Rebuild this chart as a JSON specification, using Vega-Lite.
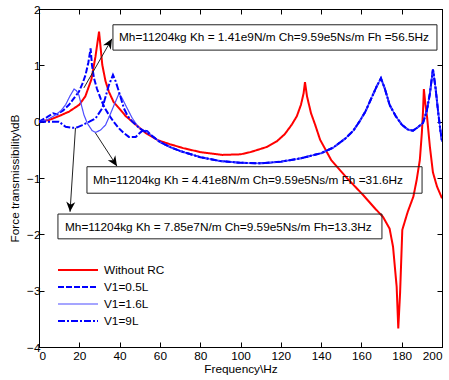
{
  "$schema": "https://vega.github.io/schema/vega-lite/v6.json",
  "width": 403,
  "height": 338,
  "autosize": {"type": "none"},
  "padding": {"left": 39, "top": 9, "right": 7, "bottom": 33},
  "background": "white",
  "config": {
    "font": "Liberation Sans",
    "view": {"stroke": "black", "strokeWidth": 1},
    "axis": {
      "grid": false,
      "domainColor": "black",
      "tickColor": "black",
      "labelColor": "black",
      "titleColor": "black",
      "labelFont": "Liberation Sans",
      "titleFont": "Liberation Sans",
      "labelFontSize": 11.8,
      "titleFontSize": 11.8,
      "titleFontWeight": "normal",
      "tickSize": -5
    },
    "legend": {
      "labelFont": "Liberation Sans",
      "labelFontSize": 11.8,
      "labelColor": "black"
    }
  },
  "datasets": {
    "curves": [
      {"s": "Without RC", "f": 0, "v": 0},
      {"s": "Without RC", "f": 5, "v": 0.03},
      {"s": "Without RC", "f": 10, "v": 0.1},
      {"s": "Without RC", "f": 15, "v": 0.18},
      {"s": "Without RC", "f": 20, "v": 0.3},
      {"s": "Without RC", "f": 23, "v": 0.45},
      {"s": "Without RC", "f": 26, "v": 0.75},
      {"s": "Without RC", "f": 28, "v": 1.15},
      {"s": "Without RC", "f": 29.8, "v": 1.6},
      {"s": "Without RC", "f": 31.4, "v": 1.01},
      {"s": "Without RC", "f": 33, "v": 0.72},
      {"s": "Without RC", "f": 34.7, "v": 0.53},
      {"s": "Without RC", "f": 37, "v": 0.35},
      {"s": "Without RC", "f": 39.7, "v": 0.24},
      {"s": "Without RC", "f": 43, "v": 0.1},
      {"s": "Without RC", "f": 46.3, "v": 0.0},
      {"s": "Without RC", "f": 52.9, "v": -0.2},
      {"s": "Without RC", "f": 59, "v": -0.33},
      {"s": "Without RC", "f": 65, "v": -0.4},
      {"s": "Without RC", "f": 71.6, "v": -0.47},
      {"s": "Without RC", "f": 80, "v": -0.54},
      {"s": "Without RC", "f": 91, "v": -0.59},
      {"s": "Without RC", "f": 100, "v": -0.58},
      {"s": "Without RC", "f": 105, "v": -0.54},
      {"s": "Without RC", "f": 113, "v": -0.45},
      {"s": "Without RC", "f": 118, "v": -0.35},
      {"s": "Without RC", "f": 122, "v": -0.22},
      {"s": "Without RC", "f": 125.5, "v": -0.05},
      {"s": "Without RC", "f": 128, "v": 0.1},
      {"s": "Without RC", "f": 130, "v": 0.3},
      {"s": "Without RC", "f": 131.3, "v": 0.5},
      {"s": "Without RC", "f": 132, "v": 0.7},
      {"s": "Without RC", "f": 133, "v": 0.45},
      {"s": "Without RC", "f": 135, "v": 0.15},
      {"s": "Without RC", "f": 137, "v": -0.05},
      {"s": "Without RC", "f": 139.5, "v": -0.32},
      {"s": "Without RC", "f": 145, "v": -0.68},
      {"s": "Without RC", "f": 152.8, "v": -1.0},
      {"s": "Without RC", "f": 160.8, "v": -1.3},
      {"s": "Without RC", "f": 167, "v": -1.55},
      {"s": "Without RC", "f": 170.7, "v": -1.69},
      {"s": "Without RC", "f": 174, "v": -1.9},
      {"s": "Without RC", "f": 175.7, "v": -2.22},
      {"s": "Without RC", "f": 177.5, "v": -2.93},
      {"s": "Without RC", "f": 178.3, "v": -3.67},
      {"s": "Without RC", "f": 179.2, "v": -3.04},
      {"s": "Without RC", "f": 180.3, "v": -1.92},
      {"s": "Without RC", "f": 183, "v": -1.6},
      {"s": "Without RC", "f": 185.8, "v": -1.33},
      {"s": "Without RC", "f": 187.4, "v": -1.04},
      {"s": "Without RC", "f": 189, "v": -0.68},
      {"s": "Without RC", "f": 190, "v": -0.2},
      {"s": "Without RC", "f": 190.6, "v": 0.2},
      {"s": "Without RC", "f": 191, "v": 0.58},
      {"s": "Without RC", "f": 191.8, "v": 0.3},
      {"s": "Without RC", "f": 192.6, "v": 0.08},
      {"s": "Without RC", "f": 194, "v": -0.45},
      {"s": "Without RC", "f": 195.5, "v": -0.9},
      {"s": "Without RC", "f": 197.5, "v": -1.15},
      {"s": "Without RC", "f": 200, "v": -1.36},

      {"s": "V1=0.5L", "f": 0, "v": 0},
      {"s": "V1=0.5L", "f": 4, "v": 0.08},
      {"s": "V1=0.5L", "f": 7, "v": 0.15},
      {"s": "V1=0.5L", "f": 9, "v": 0.13},
      {"s": "V1=0.5L", "f": 12, "v": 0.2},
      {"s": "V1=0.5L", "f": 14.9, "v": 0.3},
      {"s": "V1=0.5L", "f": 17, "v": 0.4},
      {"s": "V1=0.5L", "f": 19.8, "v": 0.53},
      {"s": "V1=0.5L", "f": 21.5, "v": 0.67},
      {"s": "V1=0.5L", "f": 23.1, "v": 0.83},
      {"s": "V1=0.5L", "f": 24.5, "v": 1.05},
      {"s": "V1=0.5L", "f": 25.6, "v": 1.3},
      {"s": "V1=0.5L", "f": 26.3, "v": 1.0},
      {"s": "V1=0.5L", "f": 27.3, "v": 0.77},
      {"s": "V1=0.5L", "f": 28.8, "v": 0.58},
      {"s": "V1=0.5L", "f": 30.6, "v": 0.41},
      {"s": "V1=0.5L", "f": 32.5, "v": 0.25},
      {"s": "V1=0.5L", "f": 34.7, "v": 0.12},
      {"s": "V1=0.5L", "f": 37, "v": 0.0},
      {"s": "V1=0.5L", "f": 39.7, "v": -0.12},
      {"s": "V1=0.5L", "f": 42, "v": -0.2},
      {"s": "V1=0.5L", "f": 44.6, "v": -0.27},
      {"s": "V1=0.5L", "f": 48, "v": -0.27},
      {"s": "V1=0.5L", "f": 50, "v": -0.2},
      {"s": "V1=0.5L", "f": 51.7, "v": -0.15},
      {"s": "V1=0.5L", "f": 53.7, "v": -0.17},
      {"s": "V1=0.5L", "f": 56, "v": -0.25},
      {"s": "V1=0.5L", "f": 60, "v": -0.36},
      {"s": "V1=0.5L", "f": 65, "v": -0.45},
      {"s": "V1=0.5L", "f": 70, "v": -0.52},
      {"s": "V1=0.5L", "f": 80, "v": -0.63},
      {"s": "V1=0.5L", "f": 90, "v": -0.7},
      {"s": "V1=0.5L", "f": 100, "v": -0.73},
      {"s": "V1=0.5L", "f": 110, "v": -0.74},
      {"s": "V1=0.5L", "f": 120, "v": -0.71},
      {"s": "V1=0.5L", "f": 130, "v": -0.65},
      {"s": "V1=0.5L", "f": 140, "v": -0.56},
      {"s": "V1=0.5L", "f": 146, "v": -0.46},
      {"s": "V1=0.5L", "f": 152, "v": -0.3},
      {"s": "V1=0.5L", "f": 156, "v": -0.16},
      {"s": "V1=0.5L", "f": 159, "v": 0.0},
      {"s": "V1=0.5L", "f": 162, "v": 0.18},
      {"s": "V1=0.5L", "f": 165, "v": 0.42},
      {"s": "V1=0.5L", "f": 167.5, "v": 0.62},
      {"s": "V1=0.5L", "f": 169.7, "v": 0.77},
      {"s": "V1=0.5L", "f": 171.5, "v": 0.6},
      {"s": "V1=0.5L", "f": 174, "v": 0.3},
      {"s": "V1=0.5L", "f": 177, "v": 0.1},
      {"s": "V1=0.5L", "f": 180, "v": -0.05},
      {"s": "V1=0.5L", "f": 183, "v": -0.14},
      {"s": "V1=0.5L", "f": 185.6, "v": -0.16},
      {"s": "V1=0.5L", "f": 188, "v": -0.1},
      {"s": "V1=0.5L", "f": 190.6, "v": -0.02},
      {"s": "V1=0.5L", "f": 192.5, "v": 0.2},
      {"s": "V1=0.5L", "f": 194, "v": 0.5},
      {"s": "V1=0.5L", "f": 195.5, "v": 0.93},
      {"s": "V1=0.5L", "f": 196.8, "v": 0.6},
      {"s": "V1=0.5L", "f": 198, "v": 0.2},
      {"s": "V1=0.5L", "f": 199, "v": -0.1},
      {"s": "V1=0.5L", "f": 200, "v": -0.36},

      {"s": "V1=1.6L", "f": 0, "v": 0},
      {"s": "V1=1.6L", "f": 4, "v": 0.03},
      {"s": "V1=1.6L", "f": 8.3, "v": 0.12},
      {"s": "V1=1.6L", "f": 11, "v": 0.2},
      {"s": "V1=1.6L", "f": 13.2, "v": 0.3},
      {"s": "V1=1.6L", "f": 15.3, "v": 0.45},
      {"s": "V1=1.6L", "f": 17.4, "v": 0.58},
      {"s": "V1=1.6L", "f": 18.6, "v": 0.55},
      {"s": "V1=1.6L", "f": 19.8, "v": 0.47},
      {"s": "V1=1.6L", "f": 21, "v": 0.3},
      {"s": "V1=1.6L", "f": 22.3, "v": 0.12},
      {"s": "V1=1.6L", "f": 24, "v": -0.03},
      {"s": "V1=1.6L", "f": 26.4, "v": -0.16},
      {"s": "V1=1.6L", "f": 28.1, "v": -0.19},
      {"s": "V1=1.6L", "f": 30.5, "v": -0.15},
      {"s": "V1=1.6L", "f": 33, "v": -0.06},
      {"s": "V1=1.6L", "f": 35, "v": 0.1},
      {"s": "V1=1.6L", "f": 37.2, "v": 0.29},
      {"s": "V1=1.6L", "f": 39.7, "v": 0.5},
      {"s": "V1=1.6L", "f": 41.2, "v": 0.42},
      {"s": "V1=1.6L", "f": 43, "v": 0.29},
      {"s": "V1=1.6L", "f": 46.3, "v": 0.06},
      {"s": "V1=1.6L", "f": 49, "v": -0.08},
      {"s": "V1=1.6L", "f": 51.2, "v": -0.15},
      {"s": "V1=1.6L", "f": 53, "v": -0.17},
      {"s": "V1=1.6L", "f": 56, "v": -0.25},
      {"s": "V1=1.6L", "f": 60, "v": -0.36},
      {"s": "V1=1.6L", "f": 65, "v": -0.45},
      {"s": "V1=1.6L", "f": 70, "v": -0.52},
      {"s": "V1=1.6L", "f": 80, "v": -0.63},
      {"s": "V1=1.6L", "f": 90, "v": -0.7},
      {"s": "V1=1.6L", "f": 100, "v": -0.73},
      {"s": "V1=1.6L", "f": 110, "v": -0.74},
      {"s": "V1=1.6L", "f": 120, "v": -0.71},
      {"s": "V1=1.6L", "f": 130, "v": -0.65},
      {"s": "V1=1.6L", "f": 140, "v": -0.56},
      {"s": "V1=1.6L", "f": 146, "v": -0.46},
      {"s": "V1=1.6L", "f": 152, "v": -0.3},
      {"s": "V1=1.6L", "f": 156, "v": -0.16},
      {"s": "V1=1.6L", "f": 159, "v": 0.0},
      {"s": "V1=1.6L", "f": 162, "v": 0.18},
      {"s": "V1=1.6L", "f": 165, "v": 0.42},
      {"s": "V1=1.6L", "f": 167.5, "v": 0.62},
      {"s": "V1=1.6L", "f": 169.7, "v": 0.77},
      {"s": "V1=1.6L", "f": 171.5, "v": 0.6},
      {"s": "V1=1.6L", "f": 174, "v": 0.3},
      {"s": "V1=1.6L", "f": 177, "v": 0.1},
      {"s": "V1=1.6L", "f": 180, "v": -0.05},
      {"s": "V1=1.6L", "f": 183, "v": -0.14},
      {"s": "V1=1.6L", "f": 185.6, "v": -0.16},
      {"s": "V1=1.6L", "f": 188, "v": -0.1},
      {"s": "V1=1.6L", "f": 190.6, "v": -0.02},
      {"s": "V1=1.6L", "f": 192.5, "v": 0.2},
      {"s": "V1=1.6L", "f": 194, "v": 0.5},
      {"s": "V1=1.6L", "f": 195.5, "v": 0.93},
      {"s": "V1=1.6L", "f": 196.8, "v": 0.6},
      {"s": "V1=1.6L", "f": 198, "v": 0.2},
      {"s": "V1=1.6L", "f": 199, "v": -0.1},
      {"s": "V1=1.6L", "f": 200, "v": -0.36},

      {"s": "V1=9L", "f": 0, "v": 0},
      {"s": "V1=9L", "f": 5, "v": 0.0},
      {"s": "V1=9L", "f": 9.9, "v": 0.0},
      {"s": "V1=9L", "f": 13.2, "v": -0.09},
      {"s": "V1=9L", "f": 16.5, "v": -0.11},
      {"s": "V1=9L", "f": 19, "v": -0.1},
      {"s": "V1=9L", "f": 21.5, "v": -0.06},
      {"s": "V1=9L", "f": 25, "v": 0.0},
      {"s": "V1=9L", "f": 28.1, "v": 0.06},
      {"s": "V1=9L", "f": 31.4, "v": 0.24},
      {"s": "V1=9L", "f": 33.5, "v": 0.5},
      {"s": "V1=9L", "f": 34.7, "v": 0.65},
      {"s": "V1=9L", "f": 36.7, "v": 0.83},
      {"s": "V1=9L", "f": 38, "v": 0.72},
      {"s": "V1=9L", "f": 39.7, "v": 0.53},
      {"s": "V1=9L", "f": 42.1, "v": 0.24},
      {"s": "V1=9L", "f": 44, "v": 0.1},
      {"s": "V1=9L", "f": 46.3, "v": 0.0},
      {"s": "V1=9L", "f": 50, "v": -0.12},
      {"s": "V1=9L", "f": 52.9, "v": -0.18},
      {"s": "V1=9L", "f": 56, "v": -0.25},
      {"s": "V1=9L", "f": 60, "v": -0.36},
      {"s": "V1=9L", "f": 65, "v": -0.45},
      {"s": "V1=9L", "f": 70, "v": -0.52},
      {"s": "V1=9L", "f": 80, "v": -0.63},
      {"s": "V1=9L", "f": 90, "v": -0.7},
      {"s": "V1=9L", "f": 100, "v": -0.73},
      {"s": "V1=9L", "f": 110, "v": -0.74},
      {"s": "V1=9L", "f": 120, "v": -0.71},
      {"s": "V1=9L", "f": 130, "v": -0.65},
      {"s": "V1=9L", "f": 140, "v": -0.56},
      {"s": "V1=9L", "f": 146, "v": -0.46},
      {"s": "V1=9L", "f": 152, "v": -0.3},
      {"s": "V1=9L", "f": 156, "v": -0.16},
      {"s": "V1=9L", "f": 159, "v": 0.0},
      {"s": "V1=9L", "f": 162, "v": 0.18},
      {"s": "V1=9L", "f": 165, "v": 0.42},
      {"s": "V1=9L", "f": 167.5, "v": 0.62},
      {"s": "V1=9L", "f": 169.7, "v": 0.77},
      {"s": "V1=9L", "f": 171.5, "v": 0.6},
      {"s": "V1=9L", "f": 174, "v": 0.3},
      {"s": "V1=9L", "f": 177, "v": 0.1},
      {"s": "V1=9L", "f": 180, "v": -0.05},
      {"s": "V1=9L", "f": 183, "v": -0.14},
      {"s": "V1=9L", "f": 185.6, "v": -0.16},
      {"s": "V1=9L", "f": 188, "v": -0.1},
      {"s": "V1=9L", "f": 190.6, "v": -0.02},
      {"s": "V1=9L", "f": 192.5, "v": 0.2},
      {"s": "V1=9L", "f": 194, "v": 0.5},
      {"s": "V1=9L", "f": 195.5, "v": 0.93},
      {"s": "V1=9L", "f": 196.8, "v": 0.6},
      {"s": "V1=9L", "f": 198, "v": 0.2},
      {"s": "V1=9L", "f": 199, "v": -0.1},
      {"s": "V1=9L", "f": 200, "v": -0.36}
    ],
    "notes": [
      {"id": "a", "label": "Mh=11204kg Kh = 1.41e9N/m Ch=9.59e5Ns/m Fh =56.5Hz", "bx": 36.7, "bx2": 197.5, "by": 1.72, "by2": 1.27, "tx": 39.7, "ty": 1.5, "ax": 22.3, "ay": 0.6, "ax2": 36.2, "ay2": 1.47},
      {"id": "b", "label": "Mh=11204kg Kh = 4.41e8N/m Ch=9.59e5Ns/m Fh =31.6Hz", "bx": 23.8, "bx2": 190.1, "by": -0.8, "by2": -1.27, "tx": 26.8, "ty": -1.04, "ax": 28.0, "ay": -0.2, "ax2": 38.7, "ay2": -0.79},
      {"id": "c", "label": "Mh=11204kg Kh = 7.85e7N/m Ch=9.59e5Ns/m Fh=13.3Hz", "bx": 9.4, "bx2": 170.2, "by": -1.64, "by2": -2.08, "tx": 12.9, "ty": -1.87, "ax": 18.1, "ay": -0.11, "ax2": 15.4, "ay2": -1.6}
    ]
  },
  "layer": [
    {
      "data": {"name": "curves"},
      "mark": {"type": "line", "clip": true},
      "encoding": {
        "x": {"field": "f", "type": "quantitative", "scale": {"domain": [0, 200], "nice": false},
              "axis": {"orient": "bottom", "values": [0, 20, 40, 60, 80, 100, 120, 140, 160, 180, 200], "title": "Frequency\\Hz", "labelPadding": 8, "titlePadding": 2}},
        "y": {"field": "v", "type": "quantitative", "scale": {"domain": [-4, 2], "nice": false},
              "axis": {"orient": "left", "values": [-4, -3, -2, -1, 0, 1, 2], "title": "Force transmissibility\\dB", "labelPadding": 4, "titlePadding": 6}},
        "color": {"field": "s", "type": "nominal",
                  "scale": {"domain": ["Without RC", "V1=0.5L", "V1=1.6L", "V1=9L"], "range": ["#ff0000", "#0000ff", "#4d4dff", "#0000ff"]},
                  "legend": {"orient": "none", "legendX": 30, "legendY": 252, "title": null, "symbolType": "M-2.5,0H2.5", "symbolSize": 256, "labelOffset": 17, "rowPadding": 1, "padding": 0}},
        "strokeDash": {"field": "s", "type": "nominal",
                  "scale": {"domain": ["Without RC", "V1=0.5L", "V1=1.6L", "V1=9L"], "range": [[1, 0], [6, 2], [1, 0], [7, 2, 2, 2]]},
                  "legend": {"orient": "none", "legendX": 30, "legendY": 252, "title": null, "symbolType": "M-2.5,0H2.5", "symbolSize": 256, "labelOffset": 17, "rowPadding": 1, "padding": 0}},
        "strokeWidth": {"field": "s", "type": "nominal",
                  "scale": {"type": "ordinal", "domain": ["Without RC", "V1=0.5L", "V1=1.6L", "V1=9L"], "range": [2, 2, 1.2, 2]},
                  "legend": {"orient": "none", "legendX": 30, "legendY": 252, "title": null, "symbolType": "M-2.5,0H2.5", "symbolSize": 256, "labelOffset": 17, "rowPadding": 1, "padding": 0}}
      }
    },
    {
      "data": {"name": "curves"},
      "mark": {"type": "line", "opacity": 0},
      "encoding": {
        "x": {"field": "f", "type": "quantitative", "scale": {"domain": [0, 200], "nice": false},
              "axis": {"orient": "top", "values": [0, 20, 40, 60, 80, 100, 120, 140, 160, 180, 200], "labels": false, "title": null}},
        "y": {"field": "v", "type": "quantitative", "scale": {"domain": [-4, 2], "nice": false},
              "axis": {"orient": "right", "values": [-4, -3, -2, -1, 0, 1, 2], "labels": false, "title": null}},
        "detail": {"field": "s"}
      }
    },
    {
      "data": {"name": "notes"},
      "mark": {"type": "rect", "fill": null, "fillOpacity": 0, "stroke": "#222222", "strokeWidth": 1},
      "encoding": {
        "x": {"field": "bx", "type": "quantitative", "scale": {"domain": [0, 200], "nice": false}, "axis": null},
        "x2": {"field": "bx2"},
        "y": {"field": "by", "type": "quantitative", "scale": {"domain": [-4, 2], "nice": false}, "axis": null},
        "y2": {"field": "by2"}
      }
    },
    {
      "data": {"name": "notes"},
      "mark": {"type": "text", "align": "left", "baseline": "middle", "font": "Liberation Sans", "fontSize": 11.8, "color": "black"},
      "encoding": {
        "x": {"field": "tx", "type": "quantitative", "scale": {"domain": [0, 200], "nice": false}, "axis": null},
        "y": {"field": "ty", "type": "quantitative", "scale": {"domain": [-4, 2], "nice": false}, "axis": null},
        "text": {"field": "label"}
      }
    },
    {
      "data": {"name": "notes"},
      "mark": {"type": "rule", "color": "#222222", "strokeWidth": 1},
      "encoding": {
        "x": {"field": "ax", "type": "quantitative", "scale": {"domain": [0, 200], "nice": false}, "axis": null},
        "x2": {"field": "ax2"},
        "y": {"field": "ay", "type": "quantitative", "scale": {"domain": [-4, 2], "nice": false}, "axis": null},
        "y2": {"field": "ay2"}
      }
    },
    {
      "data": {"name": "notes"},
      "transform": [{"filter": "datum.id === 'a'"}],
      "mark": {"type": "point", "shape": "M0,0L-0.45,1L0,0.7L0.45,1Z", "filled": true, "color": "black", "opacity": 1, "size": 400, "angle": 30},
      "encoding": {
        "x": {"field": "ax2", "type": "quantitative", "scale": {"domain": [0, 200], "nice": false}, "axis": null},
        "y": {"field": "ay2", "type": "quantitative", "scale": {"domain": [-4, 2], "nice": false}, "axis": null}
      }
    },
    {
      "data": {"name": "notes"},
      "transform": [{"filter": "datum.id === 'b'"}],
      "mark": {"type": "point", "shape": "M0,0L-0.45,1L0,0.7L0.45,1Z", "filled": true, "color": "black", "opacity": 1, "size": 400, "angle": 147},
      "encoding": {
        "x": {"field": "ax2", "type": "quantitative", "scale": {"domain": [0, 200], "nice": false}, "axis": null},
        "y": {"field": "ay2", "type": "quantitative", "scale": {"domain": [-4, 2], "nice": false}, "axis": null}
      }
    },
    {
      "data": {"name": "notes"},
      "transform": [{"filter": "datum.id === 'c'"}],
      "mark": {"type": "point", "shape": "M0,0L-0.45,1L0,0.7L0.45,1Z", "filled": true, "color": "black", "opacity": 1, "size": 400, "angle": 184},
      "encoding": {
        "x": {"field": "ax2", "type": "quantitative", "scale": {"domain": [0, 200], "nice": false}, "axis": null},
        "y": {"field": "ay2", "type": "quantitative", "scale": {"domain": [-4, 2], "nice": false}, "axis": null}
      }
    }
  ],
  "resolve": {"axis": {"x": "independent", "y": "independent"}}
}
